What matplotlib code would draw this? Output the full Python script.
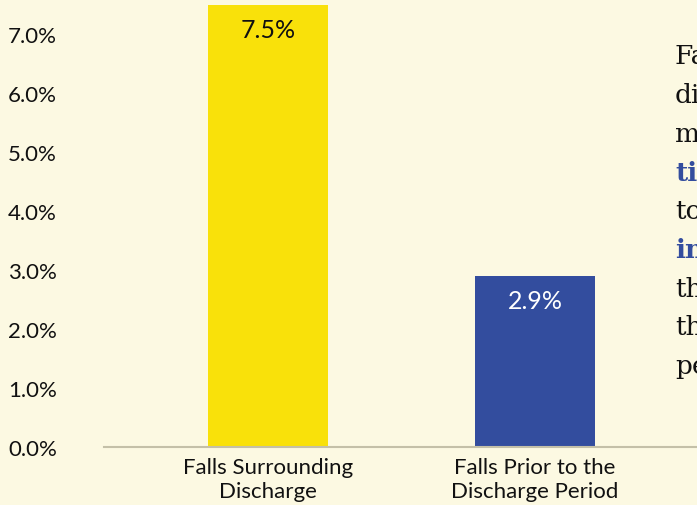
import matplotlib.pyplot as plt
from matplotlib.ticker import FuncFormatter

categorias = ['Falls Surrounding\nDischarge', 'Falls Prior to the\nDischarge Period']
valores = [7.5, 2.9]
colores = ['#F9E10A', '#334D9E']
colores_texto = ['#111111', '#FFFFFF']
ticks_y = [0, 1, 2, 3, 4, 5, 6, 7]

# fragmentos del texto lateral (cortado en el borde)
fragmentos = ['Fa', 'di', 'm', 'ti', 'to', 'in', 'th', 'th', 'pe']
resaltados = [False, False, False, True, False, True, False, False, False]

fondo = '#FCF9E2'
W, H = 697, 506

fig = plt.figure(figsize=(W / 100, H / 100), dpi=100, facecolor=fondo)
ax = fig.add_axes([104 / W, (H - 448) / H, (W - 104) / W, 448 / H])
ax.set_facecolor(fondo)

x = range(len(categorias))
ax.bar(x, valores, width=0.45, color=colores, zorder=2)

for i, v in enumerate(valores):
    ax.annotate(f'{v:.1f}%', (i, v), xytext=(0, -18), textcoords='offset points',
                ha='center', va='center', fontsize=18, family='Lato',
                color=colores_texto[i])

ax.set_xlim(-0.614, 1.607)
ax.set_ylim(0, 448 / 59)
ax.set_yticks(ticks_y)
ax.yaxis.set_major_formatter(FuncFormatter(lambda v, _: f'{v:.1f}%'))
ax.set_xticks(list(x))
ax.set_xticklabels(categorias)

ax.tick_params(axis='y', length=0, pad=34, labelsize=16, labelcolor='#111111')
ax.tick_params(axis='x', length=0, pad=7, labelsize=16, labelcolor='#111111')
for lab in ax.get_yticklabels():
    lab.set_family('Lato')
for lab in ax.get_xticklabels():
    lab.set_family('Lato')
    lab.set_linespacing(1.28)

for lado in ['top', 'right', 'left']:
    ax.spines[lado].set_visible(False)
ax.spines['bottom'].set_color('#C4C0A8')
ax.spines['bottom'].set_linewidth(1.5)

# texto lateral en serif
for k, frag in enumerate(fragmentos):
    y = 1 - (57 + k * 38.7) / H
    if resaltados[k]:
        fig.text(675 / W, y, frag, fontsize=19, family='DejaVu Serif',
                 color='#334D9E', weight='bold', va='center', ha='left')
    else:
        fig.text(675 / W, y, frag, fontsize=19, family='DejaVu Serif',
                 color='#111111', va='center', ha='left')

fig.savefig('out.png', dpi=100, facecolor=fondo)
